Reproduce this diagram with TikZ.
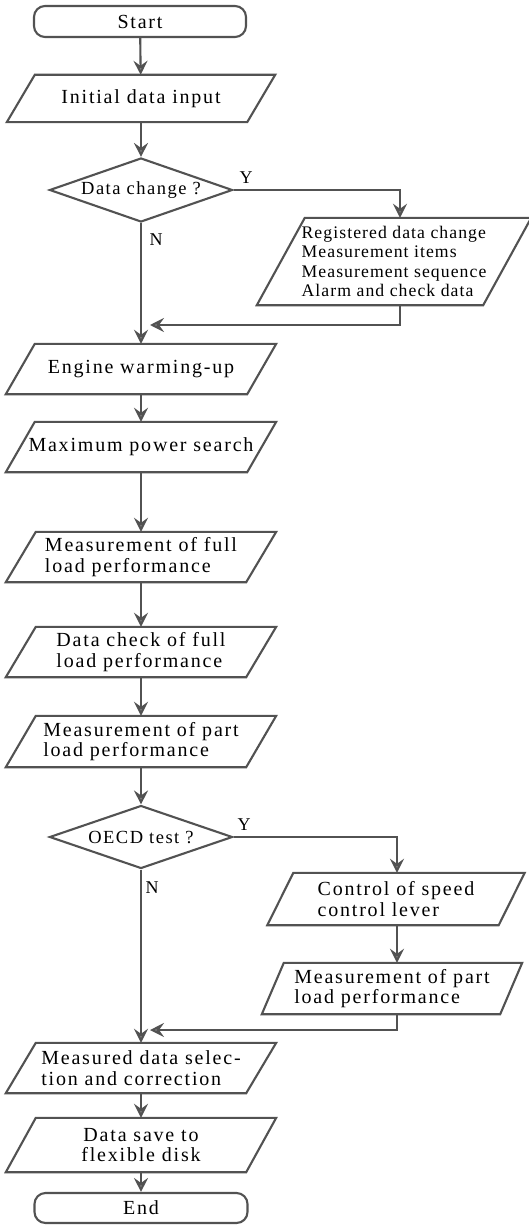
\documentclass[tikz,border=0pt]{standalone}
\usepackage{fontspec}
\setmainfont{Liberation Serif}
\usetikzlibrary{shapes.geometric,arrows.meta,calc}
\newcommand\bigtxt{\fontsize{20}{20.5}\selectfont\addfontfeature{LetterSpace=9}}
\newcommand\dectxt{\fontsize{18.5}{20}\selectfont\addfontfeature{LetterSpace=8}}
\newcommand\midtxt{\fontsize{17.7}{19.5}\selectfont\addfontfeature{LetterSpace=6}}
\newcommand\lbltxt{\fontsize{18}{20}\selectfont}
\newcommand\parabox[2]{\draw[boxline] ($(#1.north west)+(#2,0)$) -- ($(#1.north east)+(#2,0)$) -- ($(#1.south east)-(#2,0)$) -- ($(#1.south west)-(#2,0)$) -- cycle;}
\tikzset{
  boxline/.style={draw=black!68, line width=2.1pt, line join=miter},
  para/.style={rectangle, inner sep=0pt, minimum width=#1, font=\bigtxt, align=left},
  term/.style={rectangle, rounded corners=11pt, boxline, inner sep=0pt, minimum width=212pt, font=\bigtxt},
  decide/.style={diamond, boxline, inner sep=0pt, minimum width=183pt, minimum height=64pt, aspect=2.86, font=\dectxt},
  flow/.style={draw=black!68, line width=2.1pt, -{Stealth[length=14pt,width=14pt,inset=5pt,fill=black!42]}},
  yn/.style={font=\lbltxt, inner sep=0pt}
}
\begin{document}
\begin{tikzpicture}[x=1pt,y=-1pt]
\useasboundingbox (0,0) rectangle (529,1225);
\fill[white] (0,0) rectangle (529,1225);
% nodes
\node[term, minimum height=31pt] (start) at (140,21.5) {Start};
\node[para=240pt, minimum height=47pt] (init) at (141,98.5) {Initial data input};
\node[decide] (dchg) at (141,190) {Data change ?};
\node[para=226pt, minimum height=87pt, font=\midtxt] (reg) at (394,261.5) {Registered data change\\Measurement items\\Measurement sequence\\Alarm and check data};
\node[para=241pt, minimum height=50pt] (warm) at (141,369) {Engine warming-up};
\node[para=241pt, minimum height=50pt] (maxp) at (141,447) {Maximum power search};
\node[para=240pt, minimum height=50pt] (mfull) at (141,557) {Measurement of full\\load performance};
\node[para=240pt, minimum height=50pt] (dcheck) at (141,652) {Data check of full\\load performance};
\node[para=240pt, minimum height=51pt] (mpart) at (141,741.5) {Measurement of part\\load performance};
\node[decide, minimum height=63pt] (oecd) at (141,837) {OECD test ?};
\node[para=231pt, minimum height=52pt] (ctrl) at (396,899) {Control of speed\\control lever};
\node[para=238pt, minimum height=51pt] (mpart2) at (392,988.5) {Measurement of part\\load performance};
\node[para=240pt, minimum height=50pt] (msel) at (141,1068) {Measured data selec-\\tion and correction};
\node[para=240pt, minimum height=54pt, align=center] (save) at (141,1145) {Data save to\\flexible disk};
\node[term, minimum height=30pt, minimum width=213pt] (end) at (141,1208) {End};
% parallelogram outlines
\parabox{init}{14}
\parabox{reg}{24}
\parabox{warm}{14.5}
\parabox{maxp}{14.5}
\parabox{mfull}{15}
\parabox{dcheck}{15}
\parabox{mpart}{15}
\parabox{ctrl}{13}
\parabox{mpart2}{11}
\parabox{msel}{15}
\parabox{save}{15}
% join points
\coordinate (j1) at (150,325);
\coordinate (j2) at (150,1030);
% connectors
\draw[flow] (start) -- (init);
\draw[flow] (init) -- (dchg);
\draw[flow] (dchg.east) -| ([xshift=6pt]reg.north);
\draw[flow] ([xshift=6pt]reg.south) |- (j1);
\draw[flow] (dchg.south) -- (warm.north);
\draw[flow] (warm) -- (maxp);
\draw[flow] (maxp) -- (mfull);
\draw[flow] (mfull) -- (dcheck);
\draw[flow] (dcheck) -- (mpart);
\draw[flow] (mpart) -- (oecd);
\draw[flow] (oecd.east) -| ([xshift=1pt]ctrl.north);
\draw[flow] ([xshift=1pt]ctrl.south) -- ([xshift=1pt]mpart2.north -| ctrl.south);
\draw[flow] ([xshift=1pt]ctrl.south |- mpart2.south) |- (j2);
\draw[flow] (oecd.south) -- (msel.north);
\draw[flow] (msel) -- (save);
\draw[flow] (save) -- (end);
% labels
\node[yn] (ylab1) at (246,178) {Y};
\node[yn] (nlab1) at (156,240) {N};
\node[yn] (ylab2) at (244,825) {Y};
\node[yn] (nlab2) at (152,888) {N};
\end{tikzpicture}
\end{document}
